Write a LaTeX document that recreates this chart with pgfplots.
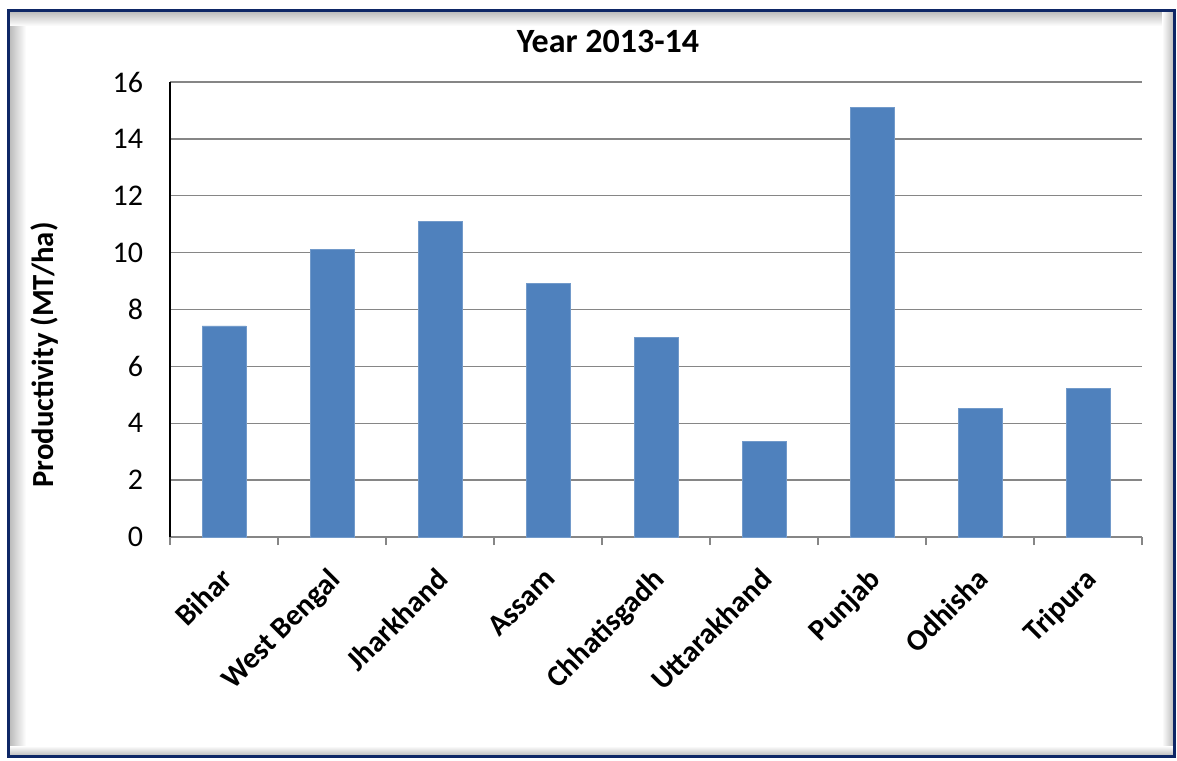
\documentclass[border=0pt]{standalone}
\usepackage{pgfplots}
\pgfplotsset{compat=1.18}
\usepackage{fontspec}
\setmainfont{Carlito}
\definecolor{barblue}{HTML}{4F81BD}
\definecolor{gridgray}{HTML}{868686}
\definecolor{framenavy}{HTML}{0E2766}
\begin{document}
\begin{tikzpicture}[x=0.75pt,y=0.75pt]
\path[use as bounding box] (0,0) rectangle (1177,760);
% inner shadow of the frame
\shade[left color=gray!55, right color=white] (9,4) rectangle (26,749);
\shade[top color=gray!55, bottom color=white] (9,734) rectangle (1174,749);
\shade[left color=white, right color=gray!55] (1162,4) rectangle (1174,749);
\shade[top color=white, bottom color=gray!55] (9,4) rectangle (1174,14);
\fill[white] (26,14) rectangle (1162,734);
\draw[framenavy, line width=2.2pt] (8.5,3.5) rectangle (1174.5,749.5);
\begin{axis}[
  at={(127.5pt,167.25pt)}, anchor=south west,
  scale only axis, width=729pt, height=341.25pt,
  xmin=-0.5, xmax=8.5, ymin=0, ymax=16,
  ytick={0,2,...,16},
  ymajorgrids, grid style={gridgray, line width=1.1pt},
  xtick={0,...,8},
  xticklabels={Bihar,West Bengal,Jharkhand,Assam,Chhatisgadh,Uttarakhand,Punjab,Odhisha,Tripura},
  minor xtick={-0.5,0.5,...,8.5},
  major tick length=0pt, minor tick length=6pt,
  tick align=outside,
  minor tick style={gridgray, line width=1.5pt},
  major tick style={draw=none},
  axis x line*=bottom, axis y line*=left,
  x axis line style={gridgray, line width=1.8pt, -},
  y axis line style={black, line width=2.2pt, -},
  /pgf/number format/assume math mode=true,
  yticklabel style={font=\fontsize{22.5}{26}\selectfont, inner sep=2pt, xshift=-18pt},
  xticklabel style={font=\bfseries\fontsize{22.5}{27}\selectfont, rotate=45, anchor=north east, inner sep=2pt, xshift=-16pt, yshift=-11pt},
  ylabel={Productivity (MT/ha)},
  ylabel style={font=\bfseries\fontsize{23}{27}\selectfont, at={(axis description cs:-0.1286,0.4)}, anchor=center},
  title={Year 2013-14},
  title style={font=\bfseries\fontsize{25.5}{30}\selectfont, at={(axis description cs:0.4506,1.0462)}, anchor=base},
]
\addplot[ybar, bar width=33pt, fill=barblue, draw=barblue!80!white, line width=0.6pt]
  coordinates {(0,7.42) (1,10.12) (2,11.11) (3,8.92) (4,7.02) (5,3.35) (6,15.12) (7,4.52) (8,5.22)};
\end{axis}
\end{tikzpicture}
\end{document}
